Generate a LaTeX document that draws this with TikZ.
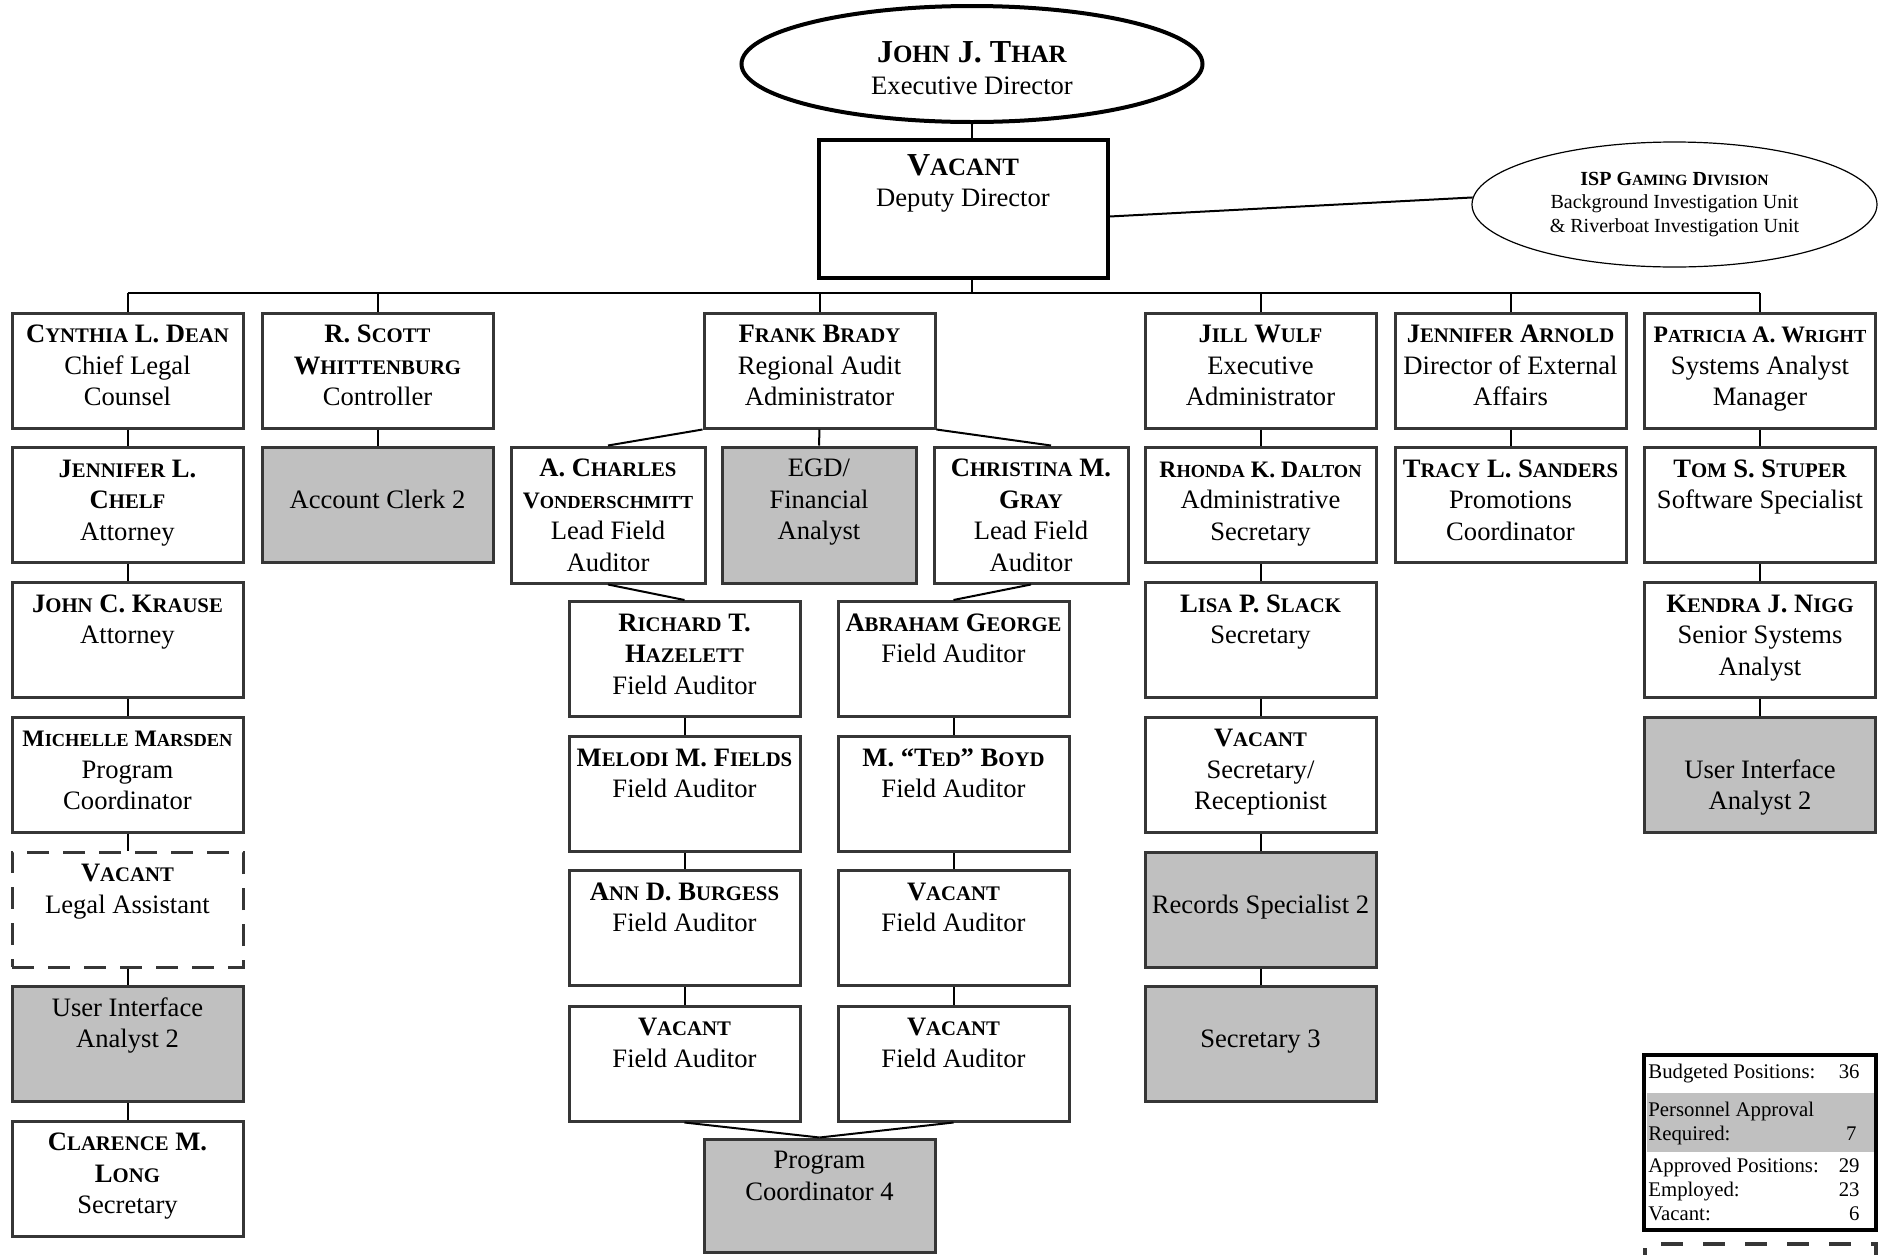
\documentclass[tikz,border=0pt]{standalone}
\usepackage{fontspec}
\setmainfont{Liberation Serif}
\usetikzlibrary{shapes.geometric}
\definecolor{bline}{HTML}{363636}
\definecolor{gfill}{HTML}{C0C0C0}
\makeatletter
\newcommand\s[1]{{\fontsize{\strip@pt\dimexpr0.78\dimexpr\f@size pt\relax\relax}{\f@baselineskip}\selectfont#1}}
\makeatother
\newcommand\nsm[1]{{\fontsize{11.8}{15.75}\selectfont#1}}
\newcommand\tbw[3]{\parbox[c][#1][t]{#2}{\centering\rule{0pt}{14.75pt}#3\par}}
\newcommand\tb[1]{\tbw{57.5pt}{113pt}{#1}}
\newcommand\tbk[1]{\tbw{68pt}{95pt}{#1}}
\begin{document}
\begin{tikzpicture}[x=0.5pt,y=-0.5pt,
 bx/.style={draw=bline, line width=1.5pt, fill=white, inner sep=0pt, minimum width=115.5pt, font=\fontsize{13.3}{15.75}\selectfont, text=black},
 gbx/.style={bx, fill=gfill},
 dbx/.style={bx, dash pattern=on 11pt off 7pt},
 kbx/.style={bx, minimum width=97pt},
 gkbx/.style={kbx, fill=gfill},
 ln/.style={line width=1pt, black},
 lt/.style={inner sep=0pt, font=\fontsize{10.4}{12}\selectfont},
]
\useasboundingbox (0,0) rectangle (1886,1254);

% top
\node[ellipse, draw, line width=2pt, minimum width=230.5pt, minimum height=58pt, inner sep=0pt, align=center, font=\fontsize{13.3}{16}\selectfont] (ed) at (972,64) {\rule{0pt}{14.6pt}{\fontsize{16}{16}\selectfont\textbf{J\s{OHN} J. T\s{HAR}}}\\Executive Director};
\node[bx, draw=black, line width=2pt, minimum width=144.5pt] (dd) at (963,209) {\parbox[c][69pt][t]{140pt}{\centering\rule{0pt}{17.5pt}{\fontsize{16}{16}\selectfont\textbf{V\s{ACANT}}}\\Deputy Director\par}};
\node[ellipse, draw, line width=0.6pt, minimum width=202.5pt, minimum height=62.5pt, inner sep=0pt, align=center, font=\fontsize{10}{11.6}\selectfont] (isp) at (1674.5,204.5) {\textbf{ISP G\s{AMING} D\s{IVISION}}\\Background Investigation Unit\\\& Riverboat Investigation Unit};
\coordinate (bus) at (972,293);

% column A
\node[bx] (cd) at (127.5,370.5) {\tb{\textbf{C\s{YNTHIA} L. D\s{EAN}}\\Chief Legal\\Counsel}};
\node[bx] (jc) at (127.5,505) {\tb{\textbf{J\s{ENNIFER} L.}\\\textbf{C\s{HELF}}\\Attorney}};
\node[bx] (jk) at (127.5,640) {\tb{\textbf{J\s{OHN} C. K\s{RAUSE}}\\Attorney}};
\node[bx] (mm) at (127.5,774.5) {\tb{\nsm{\textbf{M\s{ICHELLE} M\s{ARSDEN}}}\\Program\\Coordinator}};
\node[dbx] (la) at (127.5,909.5) {\tb{\textbf{V\s{ACANT}}\\Legal Assistant}};
\node[gbx] (ui) at (127.5,1044) {\tb{User Interface\\Analyst 2}};
\node[bx] (cl) at (127.5,1178.5) {\tb{\textbf{C\s{LARENCE} M.}\\\textbf{L\s{ONG}}\\Secretary}};

% column B
\node[bx] (sw) at (377.5,370.5) {\tb{\textbf{R. S\s{COTT}}\\\textbf{W\s{HITTENBURG}}\\Controller}};
\node[gbx] (acl) at (377.5,505) {\tb{\mbox{}\\Account Clerk 2}};

% Frank Brady
\node[bx] (fb) at (819.5,370.5) {\tb{\textbf{F\s{RANK} B\s{RADY}}\\Regional Audit\\Administrator}};
\node[kbx] (acv) at (608,515) {\tbk{\textbf{A. C\s{HARLES}}\\\nsm{\textbf{V\s{ONDERSCHMITT}}}\\Lead Field\\Auditor}};
\node[gkbx] (egd) at (819,515) {\tbk{EGD/\\Financial\\Analyst}};
\node[kbx] (cg) at (1031,515) {\tbk{\textbf{C\s{HRISTINA} M.}\\\textbf{G\s{RAY}}\\Lead Field\\Auditor}};

\node[bx] (rh) at (684.5,659) {\tb{\textbf{R\s{ICHARD} T.}\\\textbf{H\s{AZELETT}}\\Field Auditor}};
\node[bx] (mf) at (684.5,794) {\tb{\textbf{M\s{ELODI} M. F\s{IELDS}}\\Field Auditor}};
\node[bx] (ab) at (684.5,928) {\tb{\textbf{A\s{NN} D. B\s{URGESS}}\\Field Auditor}};
\node[bx] (vl) at (684.5,1063.5) {\tb{\textbf{V\s{ACANT}}\\Field Auditor}};
\node[bx] (ag) at (953.5,659) {\tb{\textbf{A\s{BRAHAM} G\s{EORGE}}\\Field Auditor}};
\node[bx] (ted) at (953.5,794) {\tb{\textbf{M. “T\s{ED}” B\s{OYD}}\\Field Auditor}};
\node[bx] (vr1) at (953.5,928) {\tb{\textbf{V\s{ACANT}}\\Field Auditor}};
\node[bx] (vr2) at (953.5,1063.5) {\tb{\textbf{V\s{ACANT}}\\Field Auditor}};
\node[gbx] (pc) at (819.5,1195.5) {\tbw{56.5pt}{113pt}{Program\\Coordinator 4}};

% Jill Wulf
\node[bx] (jw) at (1260.5,370.5) {\tb{\textbf{J\s{ILL} W\s{ULF}}\\Executive\\Administrator}};
\node[bx] (rd) at (1260.5,505) {\tb{\nsm{\textbf{R\s{HONDA} K. D\s{ALTON}}}\\Administrative\\Secretary}};
\node[bx] (ls) at (1260.5,640) {\tb{\textbf{L\s{ISA} P. S\s{LACK}}\\Secretary}};
\node[bx] (vs) at (1260.5,774.5) {\tb{\textbf{V\s{ACANT}}\\Secretary/\\Receptionist}};
\node[gbx] (rs) at (1260.5,909.5) {\tb{\mbox{}\\Records Specialist 2}};
\node[gbx] (s3) at (1260.5,1044) {\tb{\mbox{}\\Secretary 3}};

% Jennifer Arnold
\node[bx] (ja) at (1510.5,370.5) {\tb{\textbf{J\s{ENNIFER} A\s{RNOLD}}\\Director of External\\Affairs}};
\node[bx] (ts) at (1510.5,505) {\tb{\textbf{T\s{RACY} L. S\s{ANDERS}}\\Promotions\\Coordinator}};

% Patricia Wright
\node[bx] (pw) at (1760,370.5) {\tb{\nsm{\textbf{P\s{ATRICIA} A. W\s{RIGHT}}}\\Systems Analyst\\Manager}};
\node[bx] (tss) at (1760,505) {\tb{\textbf{T\s{OM} S. S\s{TUPER}}\\Software Specialist}};
\node[bx] (kn) at (1760,640) {\tb{\textbf{K\s{ENDRA} J. N\s{IGG}}\\Senior Systems\\Analyst}};
\node[gbx] (ui2) at (1760,774.5) {\tb{\mbox{}\\User Interface\\Analyst 2}};

% connectors
\draw[ln] (ed.south) -- (ed.south |- dd.north);
\draw[ln] (ed.south |- dd.south) -- (bus);
\draw[ln] (cd.north |- bus) -- (pw.north |- bus);
\foreach \n in {cd,sw,fb,jw,ja,pw} \draw[ln] (\n.north |- bus) -- (\n.north);
\draw[ln] ([yshift=-3.75pt]dd.east) -- (isp.178.5);
\foreach \a/\b in {cd/jc, jc/jk, jk/mm, mm/la, la/ui, ui/cl, sw/acl, fb/egd, acv/rh, cg/ag, rh/mf, mf/ab, ab/vl, ag/ted, ted/vr1, vr1/vr2, vl/pc, vr2/pc, jw/rd, rd/ls, ls/vs, vs/rs, rs/s3, ja/ts, pw/tss, tss/kn, kn/ui2}
  \draw[ln] (\a.south) -- (\b.north);
\draw[ln] (fb.south west) -- (acv.north);
\draw[ln] (fb.south east) -- ([xshift=10pt]cg.north);

% legend
\node[fill=gfill, minimum width=114pt, minimum height=29.5pt, inner sep=0pt] (lgb) at (1761,1122.5) {};
\node[draw=black, line width=2pt, minimum width=116pt, minimum height=87.5pt, inner sep=0pt] (leg) at (1760,1142.5) {};
\node[lt, anchor=base west] (l1) at (1648,1078) {Budgeted Positions:};
\node[lt, anchor=base east] (l1n) at (1860,1078) {36};
\node[lt, anchor=base west] (l2) at (1648,1116) {Personnel Approval};
\node[lt, anchor=base west] (l3) at (1648,1140) {Required:};
\node[lt, anchor=base east] (l3n) at (1857,1140) {7};
\node[lt, anchor=base west] (l4) at (1648,1172) {Approved Positions:};
\node[lt, anchor=base east] (l4n) at (1860,1172) {29};
\node[lt, anchor=base west] (l5) at (1648,1196) {Employed:};
\node[lt, anchor=base east] (l5n) at (1860,1196) {23};
\node[lt, anchor=base west] (l6) at (1648,1220) {Vacant:};
\node[lt, anchor=base east] (l6n) at (1860,1220) {6};
\draw[bline, line width=2pt, dash pattern=on 11pt off 10pt] (1645,1270) -- (1645,1244) -- (1876,1244) -- (1876,1270);
\end{tikzpicture}
\end{document}
